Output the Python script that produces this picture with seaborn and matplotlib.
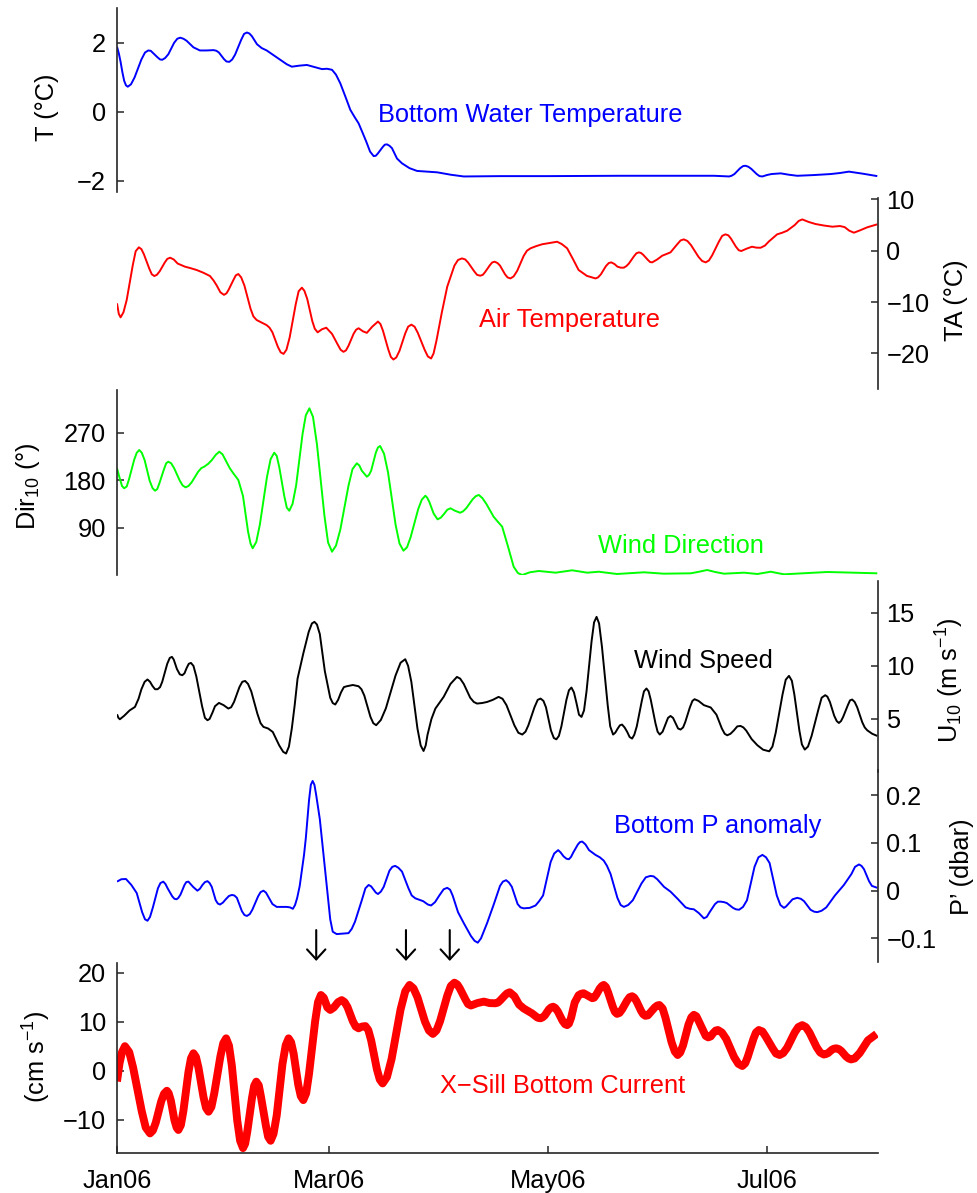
import matplotlib
matplotlib.use("Agg")
import pandas as pd
import seaborn as sns
import matplotlib.pyplot as plt
import matplotlib.dates as mdates

# ---------------------------------------------------------------------------
# Time series, (day since 1 Jan 2006, value)
# ---------------------------------------------------------------------------
bottom_temp = [
    (0, 1.89), (0.5, 1.7), (1.0, 1.45), (1.5, 1.15), (2.0, 0.90), (2.5, 0.77), (3.0, 0.73),
    (3.9, 0.8), (4.9, 1.00), (6.8, 1.52), (7.8, 1.72), (8.7, 1.78), (9.4, 1.77), (10.0, 1.71),
    (11.3, 1.58), (12.0, 1.52), (12.6, 1.51), (13.4, 1.56), (14.3, 1.67), (15.9, 2.00),
    (16.8, 2.12), (17.6, 2.15), (18.5, 2.12), (19.4, 2.06), (21.3, 1.87), (23.1, 1.78),
    (25.0, 1.78), (26.9, 1.79), (27.7, 1.77), (28.4, 1.72), (29.8, 1.53), (30.5, 1.46),
    (31.3, 1.45), (32.1, 1.52), (32.9, 1.66), (34.6, 2.09), (35.4, 2.26), (36.2, 2.30),
    (36.9, 2.27), (37.6, 2.19), (39.0, 1.96), (40.3, 1.85), (41.7, 1.78), (43.1, 1.68),
    (45.9, 1.48), (47.3, 1.38), (48.7, 1.31), (50.8, 1.34), (52.9, 1.36), (55.0, 1.30),
    (57.1, 1.24), (58.5, 1.25), (59.9, 1.22), (61.0, 1.08), (62.2, 0.83), (63.6, 0.45),
    (65.0, 0.06), (66.2, -0.15), (67.3, -0.33), (68.4, -0.6), (69.4, -0.85), (70.5, -1.15),
    (71.5, -1.28), (72.1, -1.27), (72.7, -1.20), (74.0, -1.02), (74.6, -0.95), (75.2, -0.94),
    (75.9, -0.98), (76.6, -1.05), (78.0, -1.35), (79.4, -1.49), (81.5, -1.63), (83.6, -1.71),
    (89.2, -1.75), (93.0, -1.82), (96.6, -1.87), (106.8, -1.86), (120.0, -1.86), (140.0, -1.85),
    (166.3, -1.85), (168.5, -1.86), (170.5, -1.87), (171.2, -1.85), (172.0, -1.80),
    (173.6, -1.63), (174.4, -1.57), (175.1, -1.56), (175.9, -1.59), (176.7, -1.65),
    (178.2, -1.80), (179.0, -1.86), (179.8, -1.87), (181.0, -1.83), (182.3, -1.80),
    (184.9, -1.78), (187.2, -1.82), (189.5, -1.85), (194.0, -1.83), (198.8, -1.80),
    (201.4, -1.77), (203.9, -1.73), (207.8, -1.79), (211.8, -1.86),
]

air_temp = [
    (0, -10.25), (0.5, -12.3), (1.0, -12.98), (1.8, -12.0), (2.7, -9.6), (4.4, -2.8),
    (5.2, -0.1), (6.1, 0.66), (6.8, 0.3), (7.5, -0.7), (9.0, -3.5), (9.7, -4.6), (10.4, -4.93),
    (11.1, -4.7), (11.9, -4.0), (13.3, -2.3), (14.0, -1.6), (14.8, -1.36), (15.8, -1.7),
    (16.9, -2.5), (18.9, -3.1), (20.5, -3.4), (22.2, -3.76), (24.1, -4.3), (25.9, -4.93),
    (26.9, -5.8), (27.8, -6.8), (28.8, -8.1), (29.8, -8.6), (30.5, -8.3), (31.1, -7.6),
    (32.5, -5.6), (33.1, -4.8), (33.8, -4.54), (34.6, -5.2), (35.5, -6.8), (37.2, -11.3),
    (38.0, -12.8), (38.9, -13.5), (40.3, -14.0), (41.7, -14.5), (42.5, -15.0), (43.3, -15.9),
    (44.8, -18.7), (45.6, -19.8), (46.4, -20.1), (47.2, -19.3), (48.1, -16.9), (49.8, -10.4),
    (50.6, -7.9), (51.5, -7.2), (52.2, -7.8), (53.0, -9.4), (54.4, -13.7), (55.1, -15.2),
    (55.9, -15.9), (57.1, -15.3), (58.3, -15.0), (59.9, -16.2), (61.5, -18.3), (62.3, -19.3),
    (63.1, -19.7), (63.8, -19.4), (64.5, -18.5), (65.9, -16.2), (66.6, -15.4), (67.3, -15.1),
    (68.5, -15.7), (69.6, -16.0), (71.1, -14.8), (72.7, -13.8), (73.4, -14.3), (74.1, -15.6),
    (75.6, -19.3), (76.3, -20.7), (77.0, -21.2), (77.8, -20.8), (78.7, -19.5), (80.3, -16.1),
    (81.1, -14.8), (82.0, -14.4), (82.9, -14.8), (83.8, -16.0), (85.7, -19.3), (86.6, -20.6),
    (87.5, -21.0), (88.2, -20.0), (89.0, -17.5), (90.5, -12.0), (92.0, -7.0), (94.0, -2.9),
    (95.0, -1.8), (96.1, -1.5), (97.0, -1.7), (97.8, -2.3), (99.5, -4.0), (100.3, -4.7),
    (101.2, -4.87), (101.9, -4.7), (102.5, -4.2), (103.9, -2.8), (104.5, -2.3), (105.2, -2.14),
    (106.0, -2.4), (106.7, -2.9), (108.1, -4.6), (108.8, -5.2), (109.6, -5.4), (110.5, -5.0),
    (111.5, -3.9), (113.3, -1.0), (114.2, 0.0), (115.2, 0.47), (116.8, 0.9), (118.4, 1.25),
    (120.5, 1.5), (122.6, 1.75), (123.9, 1.3), (125.4, 0.47), (127.0, -1.6), (128.6, -3.76),
    (130.9, -4.9), (133.3, -5.4), (134.0, -5.2), (134.8, -4.6), (136.2, -3.0), (137.0, -2.4),
    (137.7, -2.27), (138.6, -2.6), (139.4, -3.1), (140.3, -3.3), (141.2, -3.3), (141.9, -3.0),
    (142.6, -2.5), (144.0, -1.1), (144.7, -0.5), (145.4, -0.32), (146.0, -0.45), (146.6, -0.8),
    (147.9, -1.8), (148.5, -2.2), (149.1, -2.27), (150.5, -1.7), (151.9, -0.97), (154.2, -0.32),
    (156.0, 1.2), (157.0, 2.0), (157.9, 2.21), (158.9, 1.9), (159.9, 1.1), (162.0, -1.2),
    (163.0, -2.0), (164.0, -2.27), (164.9, -1.9), (165.8, -0.9), (167.7, 1.8), (168.6, 2.9),
    (169.5, 3.19), (170.3, 3.0), (171.0, 2.4), (172.4, 0.8), (173.2, 0.1), (173.9, -0.06),
    (175.4, 0.4), (176.9, 0.78), (178.1, 0.6), (179.3, 0.58), (180.5, 1.0), (181.6, 1.8),
    (183.9, 3.19), (185.3, 3.5), (186.7, 3.9), (188.8, 5.0), (189.9, 5.8), (190.9, 6.1),
    (192.7, 5.6), (194.6, 5.2), (197.0, 4.9), (199.3, 4.68), (201.4, 4.81), (202.7, 4.6),
    (204.0, 3.9), (205.3, 3.51), (207.1, 4.0), (209.0, 4.56), (211.8, 5.14),
]

wind_dir = [
    (0, 202.5), (0.7, 185), (1.4, 169), (2.0, 164.7), (2.7, 168), (3.4, 183), (4.8, 219),
    (5.5, 232), (6.2, 237.2), (6.9, 232), (7.7, 218), (9.1, 179), (9.9, 165), (10.6, 160.1),
    (11.2, 163), (11.8, 174), (13.1, 201), (13.7, 212), (14.3, 215.1), (15.1, 212), (15.9, 203),
    (17.5, 179), (18.3, 170), (19.1, 166.5), (19.9, 169), (20.8, 176), (22.6, 196), (23.5, 203),
    (24.3, 205.6), (25.4, 211), (26.4, 218), (27.5, 228), (28.5, 234.0), (29.4, 229),
    (30.4, 216), (31.4, 203), (32.4, 193.1), (33.8, 180.4), (35.1, 150), (36.5, 83),
    (37.2, 60), (37.8, 51.0), (38.8, 63), (39.8, 96), (41.8, 187), (42.8, 220), (43.8, 232.1),
    (44.5, 226), (45.2, 205), (46.6, 150), (47.3, 128), (48.0, 122.2), (48.9, 135), (49.9, 170),
    (51.7, 268), (52.6, 303), (53.6, 316.2), (54.6, 300), (55.7, 248), (57.8, 112), (58.8, 62),
    (59.9, 44.5), (61.0, 56), (62.2, 86), (64.5, 170), (65.6, 201), (66.8, 212.0), (67.5, 208),
    (68.2, 198), (69.6, 186.6), (70.2, 190), (70.8, 198), (72.1, 232), (72.7, 242),
    (73.3, 244.8), (74.4, 230), (75.5, 195), (77.6, 96), (78.7, 60), (79.8, 46.4), (80.8, 53),
    (81.8, 72), (83.9, 125), (84.9, 143), (85.9, 150.6), (86.4, 147), (87.0, 139), (88.2, 117),
    (89.3, 105.8), (90.2, 109), (91.1, 116), (92.0, 124), (92.9, 126.8), (94.2, 122),
    (95.6, 118.4), (96.4, 121), (97.3, 127), (99.1, 144), (100.0, 150), (100.8, 152.0),
    (101.8, 146), (102.9, 135), (104.9, 111), (106.0, 102), (107.3, 92.0), (108.9, 55),
    (110.5, 16.1), (111.7, 4), (112.9, 0.4), (115.0, 5.5), (117.5, 8.0), (122.2, 4.8),
    (126.8, 9.3), (131.0, 4.8), (134.2, 6.6), (139.3, 2.3), (146.8, 5.5), (152.3, 2.9),
    (159.8, 3.6), (162.1, 6.5), (164.4, 9.9), (166.7, 6), (169.1, 2.9), (174.7, 4.8),
    (178.4, 2.3), (182.1, 6.6), (185.8, 1.7), (197.9, 6.1), (211.8, 3.6),
]

wind_speed = [
    (0, 5.44), (0.4, 5.1), (0.8, 4.97), (2.0, 5.3), (3.5, 5.8), (5.0, 6.13), (6.0, 6.9),
    (6.8, 7.8), (7.7, 8.5), (8.5, 8.72), (9.2, 8.5), (9.9, 8.1), (10.6, 7.8), (11.3, 7.8),
    (12.0, 8.0), (12.6, 8.5), (14.0, 10.2), (14.7, 10.75), (15.3, 10.85), (15.8, 10.6),
    (16.7, 9.7), (17.5, 9.2), (18.2, 9.12), (18.8, 9.3), (19.4, 9.8), (20.0, 10.2),
    (20.6, 10.28), (21.3, 10.0), (22.1, 9.0), (23.7, 6.2), (24.5, 5.1), (25.2, 4.88),
    (25.8, 5.0), (26.6, 5.6), (27.3, 6.2), (28.4, 6.51), (29.7, 6.3), (31.0, 5.98), (31.8, 6.1),
    (32.6, 6.6), (34.1, 8.0), (34.9, 8.5), (35.7, 8.58), (36.5, 8.3), (37.4, 7.6), (39.1, 5.5),
    (40.0, 4.6), (40.8, 4.25), (42.1, 4.1), (43.4, 3.77), (45.2, 2.5), (46.3, 1.9), (47.1, 1.74),
    (47.9, 2.4), (48.7, 4.1), (49.5, 6.3), (50.3, 8.8), (51.9, 11.17), (53.4, 13.2), (54.3, 14.0),
    (55.0, 14.15), (55.7, 13.9), (56.5, 13.0), (57.9, 9.5), (59.4, 7.0), (60.1, 6.5),
    (60.8, 6.36), (61.6, 6.8), (62.4, 7.5), (63.2, 8.0), (64.0, 8.08), (65.7, 8.2), (67.3, 8.08),
    (68.1, 7.8), (68.9, 7.2), (70.6, 5.2), (71.4, 4.6), (72.2, 4.41), (73.5, 4.9), (74.9, 6.0),
    (77.6, 9.1), (79.0, 10.3), (80.3, 10.63), (81.1, 10.0), (82.0, 8.5), (83.7, 4.1),
    (84.6, 2.5), (85.4, 1.98), (86.0, 2.5), (86.5, 3.5), (87.6, 5.0), (88.7, 5.98), (91.0, 7.08),
    (92.9, 8.3), (94.7, 8.96), (95.6, 8.8), (96.6, 8.3), (98.4, 7.0), (99.4, 6.6), (100.3, 6.45),
    (101.7, 6.5), (103.1, 6.6), (104.7, 6.8), (106.3, 7.08), (107.4, 6.9), (108.5, 6.3),
    (110.7, 4.4), (111.8, 3.7), (112.9, 3.53), (113.8, 3.8), (114.6, 4.4), (116.3, 6.1),
    (117.2, 6.8), (118.0, 6.92), (118.8, 6.7), (119.5, 6.1), (120.9, 3.9), (121.7, 3.2),
    (122.4, 3.08), (123.1, 3.4), (123.8, 4.3), (125.2, 6.8), (125.9, 7.7), (126.6, 7.96),
    (127.3, 7.5), (128.0, 6.5), (128.7, 5.4), (129.4, 5.19), (130.1, 5.8), (130.8, 7.6),
    (132.2, 12.3), (132.9, 14.1), (133.6, 14.62), (134.3, 14.0), (135.1, 11.8), (136.7, 6.3),
    (137.4, 4.3), (138.2, 3.53), (138.8, 3.7), (139.5, 4.1), (140.1, 4.4), (140.7, 4.47),
    (141.4, 4.2), (142.1, 3.8), (142.8, 3.3), (143.5, 3.15), (144.1, 3.5), (144.8, 4.3),
    (146.2, 6.7), (146.8, 7.6), (147.5, 7.87), (148.1, 7.6), (148.7, 6.8), (150.0, 4.6),
    (150.6, 3.8), (151.2, 3.53), (152.0, 3.8), (152.7, 4.4), (153.5, 5.1), (154.2, 5.28),
    (154.9, 5.1), (155.6, 4.6), (156.3, 4.1), (157.0, 4.0), (157.7, 4.2), (158.3, 4.7),
    (159.6, 6.1), (160.3, 6.7), (160.9, 6.86), (162.0, 6.7), (163.5, 6.3), (165.4, 6.08),
    (167.0, 5.4), (168.5, 4.1), (169.3, 3.6), (170.0, 3.46), (170.9, 3.6), (171.8, 3.9),
    (172.8, 4.3), (173.7, 4.34), (174.5, 4.2), (175.3, 3.9), (176.8, 3.1), (178.4, 2.52),
    (180.0, 2.1), (181.7, 1.95), (182.6, 2.4), (183.5, 3.7), (185.4, 7.3), (186.3, 8.7),
    (187.2, 9.06), (188.0, 8.6), (188.7, 7.3), (190.1, 3.9), (190.8, 2.6), (191.6, 2.11),
    (192.5, 2.4), (193.5, 3.4), (195.4, 5.9), (196.3, 7.0), (197.3, 7.24), (197.9, 7.1),
    (198.6, 6.6), (199.8, 5.3), (200.5, 4.8), (201.1, 4.62), (201.7, 4.8), (202.3, 5.2),
    (203.6, 6.3), (204.2, 6.75), (204.8, 6.83), (205.5, 6.6), (206.2, 6.1), (207.6, 4.7),
    (208.3, 4.2), (209.0, 3.93), (210.4, 3.6), (211.8, 3.4),
]

bottom_pressure = [
    (0, 0.019), (1.2, 0.024), (2.5, 0.0245), (4.0, 0.012), (5.5, -0.005), (7.0, -0.045),
    (7.8, -0.06), (8.5, -0.063), (9.2, -0.055), (10.0, -0.035), (11.4, 0.005), (12.1, 0.016),
    (12.9, 0.019), (13.5, 0.014), (14.1, 0.005), (15.4, -0.012), (16.0, -0.017), (16.6, -0.018),
    (17.1, -0.015), (17.7, -0.008), (18.8, 0.012), (19.3, 0.018), (19.9, 0.019), (21.2, 0.008),
    (22.4, 0.0), (23.1, 0.004), (23.8, 0.012), (24.5, 0.018), (25.2, 0.020), (25.8, 0.016),
    (26.4, 0.008), (27.5, -0.02), (28.1, -0.027), (28.7, -0.029), (29.5, -0.025), (30.3, -0.018),
    (31.2, -0.011), (32.0, -0.009), (32.7, -0.01), (33.4, -0.015), (34.8, -0.043), (35.5, -0.051),
    (36.2, -0.053), (37.0, -0.049), (37.7, -0.04), (39.3, -0.012), (40.0, -0.003), (40.8, 0.0),
    (41.5, -0.004), (42.1, -0.012), (43.3, -0.028), (44.5, -0.034), (46.0, -0.034),
    (47.3, -0.034), (48.2, -0.035), (49.0, -0.038), (49.6, -0.03), (50.2, -0.015), (50.9, 0.01),
    (51.5, 0.043), (52.1, 0.075), (52.6, 0.11), (53.5, 0.19), (54.0, 0.222), (54.5, 0.230),
    (55.0, 0.222), (55.5, 0.2), (56.5, 0.15), (57.5, 0.078), (58.6, 0.0), (59.4, -0.06),
    (60.1, -0.086), (61.2, -0.091), (62.9, -0.090), (64.5, -0.089), (65.4, -0.08),
    (66.3, -0.065), (68.2, -0.02), (69.2, 0.005), (70.1, 0.012), (70.8, 0.009), (71.4, 0.003),
    (72.1, -0.004), (72.7, -0.007), (73.5, -0.002), (74.3, 0.008), (75.9, 0.042), (76.7, 0.05),
    (77.5, 0.052), (78.4, 0.048), (79.4, 0.04), (81.2, 0.005), (82.1, -0.01), (83.1, -0.016),
    (85.3, -0.022), (86.6, -0.029), (87.5, -0.031), (88.6, -0.024), (89.8, -0.01), (91.0, 0.003),
    (92.0, 0.006), (92.8, 0.002), (93.5, -0.01), (95.0, -0.045), (96.6, -0.068), (98.6, -0.095),
    (99.6, -0.105), (100.5, -0.109), (101.4, -0.1), (102.2, -0.085), (103.1, -0.068),
    (104.9, -0.03), (106.7, 0.01), (107.5, 0.019), (108.4, 0.022), (109.2, 0.017), (110.0, 0.008),
    (111.6, -0.028), (112.4, -0.035), (113.3, -0.037), (115.0, -0.036), (116.6, -0.031),
    (117.6, -0.022), (118.7, -0.01), (120.8, 0.06), (121.8, 0.078), (122.9, 0.085),
    (123.6, 0.08), (124.4, 0.072), (125.2, 0.067), (125.9, 0.066), (126.5, 0.071), (127.1, 0.08),
    (128.4, 0.097), (129.0, 0.102), (129.6, 0.103), (130.5, 0.097), (131.5, 0.085),
    (133.3, 0.075), (134.5, 0.07), (135.6, 0.063), (136.5, 0.052), (137.5, 0.035),
    (139.4, -0.015), (140.3, -0.03), (141.2, -0.034), (142.4, -0.03), (143.7, -0.02),
    (146.1, 0.015), (147.3, 0.028), (148.6, 0.031), (149.5, 0.03), (150.5, 0.024),
    (152.4, 0.008), (154.2, -0.002), (156.3, -0.018), (158.4, -0.035), (159.6, -0.038),
    (160.7, -0.039), (162.1, -0.047), (163.5, -0.058), (164.3, -0.055), (165.1, -0.045),
    (166.6, -0.028), (167.4, -0.023), (168.2, -0.023), (169.1, -0.024), (169.9, -0.026),
    (171.6, -0.036), (172.4, -0.039), (173.3, -0.040), (174.4, -0.034), (175.5, -0.02),
    (177.6, 0.05), (178.7, 0.07), (179.8, 0.075), (180.8, 0.07), (181.8, 0.058), (183.8, -0.01),
    (184.8, -0.03), (185.8, -0.036), (186.4, -0.033), (187.0, -0.028), (188.2, -0.018),
    (189.5, -0.015), (190.5, -0.017), (191.4, -0.022), (193.2, -0.04), (194.2, -0.044),
    (195.1, -0.045), (196.3, -0.042), (197.6, -0.035), (200.0, -0.01), (202.5, 0.012),
    (204.6, 0.035), (205.6, 0.05), (206.7, 0.055), (207.4, 0.052), (208.1, 0.045),
    (209.5, 0.02), (210.3, 0.01), (211.8, 0.006),
]

sill_current = [
    (0, -2.2), (0.7, 1.5), (1.4, 3.8), (2.2, 5.0), (3.4, 3.8), (4.5, 0.6), (6.9, -8.3),
    (8.0, -11.6), (9.2, -12.8), (10.0, -12.2), (10.8, -10.6), (12.3, -6.3), (13.1, -4.7),
    (13.9, -4.1), (14.4, -4.6), (15.0, -6.1), (16.0, -10.1), (16.6, -11.6), (17.1, -12.1),
    (17.8, -11.1), (18.5, -8.2), (19.9, -0.3), (20.6, 2.5), (21.3, 3.55), (22.0, 2.8),
    (22.7, 0.6), (24.1, -5.4), (24.8, -7.6), (25.5, -8.37), (26.3, -7.4), (27.1, -4.6),
    (28.8, 2.9), (29.6, 5.6), (30.4, 6.6), (31.2, 5.1), (32.0, 1.0), (33.5, -10.2),
    (34.3, -14.3), (35.1, -15.8), (35.7, -14.9), (36.3, -12.4), (37.6, -5.6), (38.2, -3.1),
    (38.8, -2.24), (39.5, -3.0), (40.1, -5.3), (41.5, -11.3), (42.1, -13.5), (42.8, -14.3),
    (43.6, -12.9), (44.5, -9.1), (46.1, 1.4), (47.0, 5.2), (47.8, 6.6), (48.5, 5.8), (49.2, 3.5),
    (50.5, -2.9), (51.2, -5.2), (51.9, -6.0), (52.7, -4.6), (53.5, -0.6), (55.2, 10.1),
    (56.0, 14.0), (56.8, 15.45), (57.6, 14.9), (58.6, 12.9), (59.4, 12.4), (60.4, 12.9),
    (61.6, 14.0), (62.6, 14.4), (63.4, 14.0), (64.2, 13.0), (65.7, 10.1), (66.5, 9.0),
    (67.3, 8.65), (68.2, 9.0), (69.2, 9.1), (70.0, 8.3), (70.8, 6.2), (72.4, 0.3), (73.2, -1.8),
    (74.0, -2.6), (75.2, -1.3), (76.5, 2.4), (79.0, 12.5), (80.3, 16.2), (81.5, 17.5),
    (82.6, 16.8), (83.7, 15.0), (85.8, 10.0), (86.9, 8.2), (88.0, 7.5), (89.0, 8.2), (90.0, 10.1),
    (92.0, 15.3), (93.0, 17.3), (94.0, 17.96), (94.8, 17.6), (95.5, 16.8), (97.1, 14.5),
    (97.8, 13.6), (98.6, 13.3), (100.4, 13.8), (102.2, 14.1), (103.8, 13.8), (105.4, 13.76),
    (106.1, 13.9), (106.7, 14.3), (108.1, 15.4), (108.7, 15.8), (109.4, 16.0), (110.7, 15.2),
    (112.0, 13.5), (113.3, 12.7), (115.6, 11.7), (117.2, 10.8), (118.0, 10.7), (118.6, 10.9),
    (119.2, 11.3), (120.3, 12.5), (120.9, 12.9), (121.5, 13.06), (122.1, 12.8), (122.8, 12.1),
    (124.1, 10.2), (124.8, 9.5), (125.4, 9.3), (125.9, 9.6), (126.5, 10.8), (127.5, 13.9),
    (128.6, 15.4), (129.3, 15.7), (130.0, 15.8), (131.2, 15.3), (132.4, 14.8), (132.9, 14.9),
    (133.5, 15.5), (134.5, 16.8), (135.1, 17.3), (135.6, 17.5), (136.2, 17.1), (136.8, 16.0),
    (138.1, 13.1), (138.7, 12.0), (139.3, 11.6), (140.0, 11.8), (140.7, 12.5), (142.1, 14.3),
    (142.8, 15.0), (143.5, 15.2), (144.1, 14.9), (144.7, 14.2), (146.0, 12.2), (146.6, 11.5),
    (147.2, 11.2), (147.9, 11.3), (148.5, 11.8), (149.8, 12.9), (150.5, 13.3), (151.1, 13.4),
    (152.0, 12.7), (152.8, 10.8), (154.5, 5.8), (155.4, 3.9), (156.2, 3.2), (156.9, 3.7),
    (157.7, 5.2), (159.2, 9.4), (160.0, 10.9), (160.7, 11.4), (161.4, 11.1), (162.0, 10.2),
    (163.4, 8.0), (164.0, 7.1), (164.7, 6.8), (165.4, 7.0), (166.0, 7.6), (166.8, 8.2),
    (167.4, 8.3), (168.5, 7.8), (169.7, 6.5), (171.9, 2.8), (173.1, 1.4), (174.2, 0.96),
    (175.0, 1.5), (175.7, 2.8), (177.3, 6.5), (178.0, 7.8), (178.8, 8.3), (179.8, 8.0),
    (180.7, 7.0), (182.7, 4.5), (183.6, 3.5), (184.6, 3.2), (185.6, 3.6), (186.7, 4.7),
    (188.8, 7.8), (189.8, 8.9), (190.9, 9.3), (191.9, 8.9), (192.9, 7.8), (194.9, 4.8),
    (195.9, 3.7), (196.9, 3.3), (197.5, 3.4), (198.1, 3.6), (199.2, 4.3), (199.8, 4.5),
    (200.4, 4.57), (201.1, 4.4), (201.8, 4.0), (203.1, 2.9), (203.8, 2.5), (204.5, 2.3),
    (205.5, 2.5), (206.9, 3.6), (209.2, 6.2), (211.6, 7.5),
]

# Events marked with arrows above the current panel (day since 1 Jan 2006)
event_days = [55.5, 80.5, 92.7]

x_tick_months = [1, 3, 5, 7]

# ---------------------------------------------------------------------------
sns.set_theme(style="white")
plt.rcParams["font.family"] = ["Liberation Sans", "DejaVu Sans"]
plt.rcParams.update({
    "mathtext.fontset": "custom",
    "mathtext.rm": "Liberation Sans",
    "mathtext.it": "Liberation Sans:italic",
    "mathtext.default": "regular",
    "axes.unicode_minus": True,
})

START = pd.Timestamp("2006-01-01")
END = pd.Timestamp("2006-08-01")
FS = 18.3
AXIS_COLOR = "#262626"


def to_frame(pairs):
    df = pd.DataFrame(pairs, columns=["day", "value"])
    df["date"] = START + pd.to_timedelta(df["day"], unit="D")
    return df


W, H = 978, 1193
fig = plt.figure(figsize=(W / 100, H / 100), dpi=100)


def box(top, bottom, left=117, right=878):
    return [left / W, 1 - bottom / H, (right - left) / W, (bottom - top) / H]


panels = [
    dict(data=bottom_temp, color="#0000ff", lw=1.4, side="left", pos=(8, 192),
         ylim=(-2.32, 3.01), ticks=[-2, 0, 2], labels=["\u22122", "0", "2"],
         ylabel="T (°C)", lab_xy=(-0.092, 0.46),
         text="Bottom Water Temperature", text_xy=(0.343, 0.380)),
    dict(data=air_temp, color="#ff0000", lw=1.4, side="right", pos=(198, 389),
         ylim=(-26.94, 10.27), ticks=[-20, -10, 0, 10],
         labels=["\u221220", "\u221210", "0", "10"],
         ylabel="TA (°C)", lab_xy=(1.103, 0.466),
         text="Air Temperature", text_xy=(0.476, 0.325)),
    dict(data=wind_dir, color="#00ff00", lw=1.4, side="left", pos=(390, 575),
         ylim=(0.4, 350.9), ticks=[90, 180, 270], labels=["90", "180", "270"],
         ylabel="Dir$_{10}$ (°)", lab_xy=(-0.117, 0.48),
         text="Wind Direction", text_xy=(0.632, 0.121)),
    dict(data=wind_speed, color="#000000", lw=1.4, side="right", pos=(581, 772),
         ylim=(0, 18), ticks=[5, 10, 15], labels=["5", "10", "15"],
         ylabel="U$_{10}$ (m s$^{-1}$)", lab_xy=(1.095, 0.48),
         text="Wind Speed", text_xy=(0.679, 0.543)),
    dict(data=bottom_pressure, color="#0000ff", lw=1.4, side="right", pos=(770, 962),
         ylim=(-0.1495, 0.253), ticks=[-0.1, 0, 0.1, 0.2],
         labels=["\u22120.1", "0", "0.1", "0.2"],
         ylabel="P\u2019 (dbar)", lab_xy=(1.11, 0.495),
         text="Bottom P anomaly", text_xy=(0.653, 0.673)),
    dict(data=sill_current, color="#ff0000", lw=5.7, side="left", pos=(963, 1153),
         ylim=(-16.8, 21.98), ticks=[-10, 0, 10, 20],
         labels=["\u221210", "0", "10", "20"],
         ylabel="(cm s$^{-1}$)", lab_xy=(-0.105, 0.505),
         text="X\u2212Sill Bottom Current", text_xy=(0.424, 0.316)),
]

axes = []
for i, p in enumerate(panels):
    ax = fig.add_axes(box(*p["pos"]))
    ax.patch.set_visible(False)
    df = to_frame(p["data"])
    sns.lineplot(data=df, x="date", y="value", ax=ax, color=p["color"],
                 linewidth=p["lw"], solid_capstyle="butt", solid_joinstyle="round")
    ax.set_xlim(START, END)
    ax.set_ylim(*p["ylim"])
    ax.set_xlabel("")

    for s in ("top", "left", "right", "bottom"):
        ax.spines[s].set_visible(False)
    side = p["side"]
    ax.spines[side].set_visible(True)
    ax.spines[side].set_color(AXIS_COLOR)
    ax.spines[side].set_linewidth(1.2)

    if side == "right":
        ax.yaxis.tick_right()
        ax.yaxis.set_label_position("right")
        pad = 6
    else:
        ax.yaxis.tick_left()
        pad = 8
    ax.set_yticks(p["ticks"])
    ax.set_yticklabels(p["labels"])
    ax.tick_params(axis="y", direction="in", length=5, width=1.1, color=AXIS_COLOR,
                   labelsize=FS, labelcolor="black", pad=pad)
    ax.set_ylabel(p["ylabel"], fontsize=FS, color="black", rotation=90,
                  va="center", ha="center")
    ax.yaxis.set_label_coords(*p["lab_xy"])

    ax.text(p["text_xy"][0], p["text_xy"][1], p["text"], transform=ax.transAxes,
            color=p["color"], fontsize=FS, ha="left", va="baseline")

    last = i == len(panels) - 1
    if last:
        ax.spines["bottom"].set_visible(True)
        ax.spines["bottom"].set_color(AXIS_COLOR)
        ax.spines["bottom"].set_linewidth(1.2)
        ax.xaxis.set_major_locator(mdates.MonthLocator(bymonth=x_tick_months, bymonthday=1))
        ax.xaxis.set_major_formatter(mdates.DateFormatter("%b%y"))
        ax.tick_params(axis="x", direction="in", length=5, width=1.1, color=AXIS_COLOR,
                       labelsize=FS, labelcolor="black", pad=11.5, bottom=True)
    else:
        ax.tick_params(axis="x", bottom=False, labelbottom=False)
    axes.append(ax)

# Arrows marking events above the current record
ax_cur = axes[-1]
for d in event_days:
    when = START + pd.Timedelta(days=d)
    ax_cur.annotate("", xy=(when, 22.4), xytext=(when, 28.7), xycoords="data",
                    textcoords="data", annotation_clip=False,
                    arrowprops=dict(arrowstyle="->,head_length=0.36,head_width=0.33",
                                    mutation_scale=20, lw=1.5, color="black",
                                    shrinkA=0, shrinkB=0))

fig.savefig("out.png", dpi=100)
